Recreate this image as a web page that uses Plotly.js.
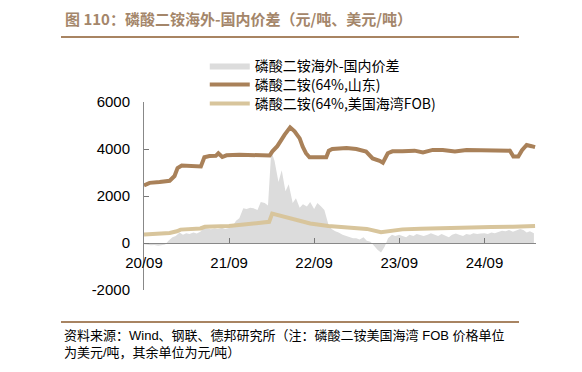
<!DOCTYPE html>
<html>
<head>
<meta charset="utf-8">
<script src="https://cdn.plot.ly/plotly-3.0.1.min.js"></script>
<style>html,body{margin:0;padding:0;background:#fff;}#chart{width:582px;height:372px;}</style>
</head>
<body>
<div id="chart"></div>
<script>
// ---- data ----
var seriesNames = ['磷酸二铵海外-国内价差', '磷酸二铵(64%,山东)', '磷酸二铵(64%,美国海湾FOB)'];

var spreadDates = ['2020-09-01','2020-09-15','2020-10-01','2020-10-15','2020-11-01','2020-11-15','2020-12-01','2020-12-15',
'2021-01-01','2021-01-15','2021-02-01','2021-02-15','2021-03-01','2021-03-15','2021-04-01','2021-04-15','2021-05-01','2021-05-15','2021-06-01','2021-06-15','2021-07-01','2021-07-15','2021-08-01','2021-08-15','2021-09-01','2021-09-15','2021-10-01','2021-10-15','2021-11-01','2021-11-15','2021-12-01','2021-12-15',
'2022-01-01','2022-01-15','2022-02-01','2022-02-15','2022-03-01','2022-03-15','2022-04-01','2022-04-15','2022-05-01','2022-05-15','2022-06-01','2022-06-15','2022-07-01','2022-07-15','2022-08-01','2022-08-15','2022-09-01','2022-09-15','2022-10-01','2022-10-15','2022-11-01','2022-11-15','2022-12-01','2022-12-15',
'2023-01-01','2023-01-15','2023-02-01','2023-02-15','2023-03-01','2023-03-15','2023-04-01','2023-04-15','2023-05-01','2023-05-15','2023-06-01','2023-06-15','2023-07-01','2023-07-15','2023-08-01','2023-08-15','2023-09-01','2023-09-15','2023-10-01','2023-10-15','2023-11-01','2023-11-15','2023-12-01','2023-12-15',
'2024-01-01','2024-01-15','2024-02-01','2024-02-15','2024-03-01','2024-03-15','2024-04-01','2024-04-15','2024-05-01','2024-05-15','2024-06-01','2024-06-15','2024-07-01','2024-07-15','2024-08-01','2024-08-15','2024-09-01','2024-09-15','2024-10-01','2024-10-15','2024-11-01','2024-11-15','2024-12-01','2024-12-15',
'2025-01-01','2025-01-15','2025-02-01','2025-02-15','2025-03-01','2025-03-15','2025-04-01'];
var spreadValues = [-50,-80,-100,-90,-120,-100,-60,100,
250,300,450,350,420,380,450,400,480,650,600,580,620,600,650,600,640,700,950,1050,1480,1450,1500,1480,
1400,1750,1700,1600,3900,3500,2600,3100,2200,2500,1700,1900,1500,1650,1550,1750,1450,1700,1550,1400,800,600,500,450,
350,300,250,200,200,150,250,100,50,-100,-300,-400,-150,200,350,300,350,300,250,350,300,380,350,300,
350,420,350,300,380,330,250,350,400,350,300,380,350,420,380,400,420,380,450,420,480,520,500,550,
480,520,600,550,450,500,420];

var sdDates = ['2020-09-01','2020-09-25','2020-11-07','2020-12-20','2021-01-10','2021-01-23','2021-02-10','2021-03-14','2021-04-14','2021-05-03','2021-05-18','2021-06-09','2021-07-06','2021-07-17','2021-08-03','2021-08-21','2021-10-15','2021-12-18','2022-02-22','2022-03-06','2022-03-27','2022-04-27','2022-05-21','2022-06-09','2022-07-01','2022-07-14','2022-07-28','2022-08-12','2022-10-23','2022-11-03','2022-11-18','2023-01-18','2023-03-01','2023-04-12','2023-05-10','2023-06-09','2023-06-23','2023-07-14','2023-08-03','2023-09-15','2023-11-06','2023-12-12','2024-01-23','2024-03-06','2024-04-27','2024-06-16','2024-09-25','2024-11-06','2024-12-19','2025-01-03','2025-01-24','2025-02-09','2025-03-01','2025-03-22','2025-04-06'];
var sdValues = [2450,2560,2600,2650,2850,3190,3300,3270,3250,3260,3650,3700,3710,3820,3660,3730,3760,3760,3720,3900,4120,4600,4920,4750,4450,4100,3820,3650,3650,3930,4000,4040,4000,3890,3600,3500,3420,3820,3900,3900,3930,3850,3960,3960,3890,3960,3960,3930,3930,3680,3680,3950,4170,4120,4080];

var fobDates = ['2020-09-01','2020-11-01','2020-12-20','2021-01-20','2021-02-05','2021-05-01','2021-05-20','2021-09-01','2021-10-15','2021-11-20','2022-02-20','2022-03-05','2022-03-25','2022-04-20','2022-06-15','2022-08-15','2022-11-01','2023-02-01','2023-04-15','2023-06-15','2023-08-01','2023-09-15','2023-12-01','2024-03-01','2024-07-01','2024-10-01','2025-01-01','2025-04-06'];
var fobValues = [360,380,430,500,570,620,690,720,760,820,900,1250,1200,1130,1000,830,720,660,600,460,540,580,610,640,660,680,690,720];

var yTickVals = [-2000, 0, 2000, 4000, 6000];
var yTickText = ['-2000', '0', '2000', '4000', '6000'];
var xTickVals = ['2020-09-01','2021-09-01','2022-09-01','2023-09-01','2024-09-01'];
var xTickText = ['20/09','21/09','22/09','23/09','24/09'];

var titleText = '图 110：磷酸二铵海外-国内价差（元/吨、美元/吨）';
var sourceText = '资料来源：Wind、钢联、德邦研究所（注：磷酸二铵美国海湾 FOB 价格单位<br>为美元/吨，其余单位为元/吨）';

// ---- chart ----
var FONT = 'Liberation Sans, Arial, Noto Sans CJK SC, sans-serif';
var brown = '#a98159';
var tan = '#d8c59c';
var gray = '#dcdcdc';

var traces = [
  {x: spreadDates, y: spreadValues, name: seriesNames[0], type: 'scatter', mode: 'lines', legend: 'legend',
   fill: 'tozeroy', fillcolor: gray, line: {width: 0, color: gray}},
  {x: sdDates, y: sdValues, name: seriesNames[1], type: 'scatter', mode: 'lines', legend: 'legend2',
   line: {width: 4, color: brown}},
  {x: fobDates, y: fobValues, name: seriesNames[2], type: 'scatter', mode: 'lines', legend: 'legend3',
   line: {width: 4, color: tan}}
];

function legendAt(yc) {
  return {x: 0.155, y: 1 + (102 - yc) / 188, xanchor: 'left', yanchor: 'middle', bgcolor: 'rgba(0,0,0,0)',
          font: {family: 'Noto Sans CJK SC, Liberation Sans, sans-serif', size: 14, color: '#000'},
          itemwidth: 40};
}

var layout = {
  width: 582, height: 372,
  margin: {l: 144, r: 46, t: 102, b: 82},
  paper_bgcolor: '#fff', plot_bgcolor: 'rgba(0,0,0,0)',
  font: {family: FONT, size: 15, color: '#000'},
  showlegend: true,
  legend: legendAt(66),
  legend2: legendAt(85),
  legend3: legendAt(104),
  xaxis: {type: 'date', range: ['2020-09-01', '2025-04-10'], anchor: 'free', position: 0.25,
          tickvals: xTickVals, ticktext: xTickText, ticks: 'inside', ticklen: 5, tickcolor: '#777',
          showline: true, linecolor: '#888', linewidth: 1, showgrid: false, zeroline: false,
          tickfont: {size: 15}, ticklabelstandoff: 6},
  yaxis: {range: [-2000, 6000], tickvals: yTickVals, ticktext: yTickText, ticks: 'inside', ticklen: 5, tickcolor: '#777',
          showline: true, linecolor: '#888', linewidth: 1, showgrid: false, zeroline: false,
          tickfont: {size: 15}, ticklabelstandoff: 10},
  shapes: [
    {type: 'line', xref: 'paper', yref: 'paper', x0: (61-144)/392, x1: (519-144)/392,
     y0: 1 + (102-37)/188, y1: 1 + (102-37)/188, line: {color: '#a88462', width: 2}},
    {type: 'line', xref: 'paper', yref: 'paper', x0: (61-144)/392, x1: (519-144)/392,
     y0: -(322-290)/188, y1: -(322-290)/188, line: {color: '#a88462', width: 2}}
  ],
  annotations: [
    {text: '<b>' + titleText + '</b>', xref: 'paper', yref: 'paper', x: (63-144)/392, y: 1 + (102-18)/188,
     xanchor: 'left', yanchor: 'middle', showarrow: false,
     font: {family: 'Noto Sans CJK SC, Liberation Sans, sans-serif', size: 15, color: '#a4866a'}},
    {text: sourceText, xref: 'paper', yref: 'paper', x: (62-144)/392, y: -(326-290)/188,
     xanchor: 'left', yanchor: 'top', align: 'left', showarrow: false,
     font: {family: 'Liberation Sans, Noto Sans CJK SC, sans-serif', size: 13, color: '#000'}}
  ]
};

Plotly.newPlot('chart', traces, layout, {displayModeBar: false, staticPlot: true});
</script>
</body>
</html>
